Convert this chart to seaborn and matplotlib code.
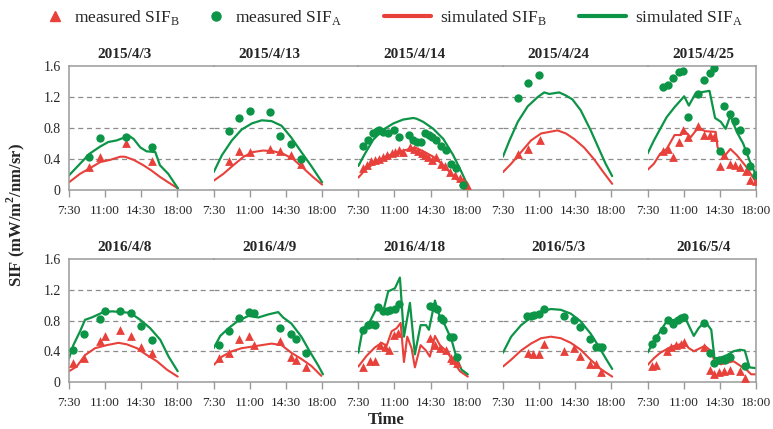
import matplotlib
matplotlib.use("Agg")
import matplotlib.pyplot as plt
from matplotlib.lines import Line2D
from matplotlib.transforms import blended_transform_factory
import seaborn as sns
import numpy as np

# ---------------- data ----------------
dates = ["2015/4/3", "2015/4/13", "2015/4/14", "2015/4/24", "2015/4/25",
         "2016/4/8", "2016/4/9", "2016/4/18", "2016/5/3", "2016/5/4"]
tick_hours = [7.5, 11.0, 14.5, 18.0]
tick_labels = ["7:30", "11:00", "14:30", "18:00"]
y_ticks = [0, 0.4, 0.8, 1.2, 1.6]
y_tick_labels = ["0", "0.4", "0.8", "1.2", "1.6"]

# 2015/4/3
p1_mB_t = [9.45, 10.5, 13.0, 15.5]
p1_mB = [0.30, 0.43, 0.61, 0.37]
p1_mA_t = [9.45, 10.5, 13.0, 15.5]
p1_mA = [0.43, 0.67, 0.68, 0.56]
p1_sB_t = [7.5, 8.57, 9.5, 10.5, 11.5, 12.45, 12.9, 13.75, 14.7, 15.5, 16.3, 17.1, 18.05]
p1_sB = [0.10, 0.21, 0.28, 0.36, 0.39, 0.43, 0.43, 0.39, 0.32, 0.25, 0.17, 0.10, 0.02]
p1_sA_t = [7.5, 8.57, 9.5, 10.5, 11.3, 12.1, 12.9, 13.3, 13.75, 14.4, 15.0, 15.85, 16.3, 17.1, 18.05]
p1_sA = [0.19, 0.34, 0.47, 0.56, 0.62, 0.64, 0.68, 0.70, 0.66, 0.55, 0.50, 0.49, 0.32, 0.21, 0.02]

# 2015/4/13
p2_mB_t = [8.97, 9.97, 10.99, 12.98, 13.94, 14.94, 15.93]
p2_mB = [0.37, 0.51, 0.49, 0.53, 0.50, 0.45, 0.34]
p2_mA_t = [8.97, 9.97, 10.99, 12.98, 13.94, 14.94, 15.93]
p2_mA = [0.76, 0.93, 1.02, 1.01, 0.70, 0.60, 0.40]
p2_sB_t = [7.5, 8.45, 9.4, 10.4, 11.3, 12.3, 13.3, 14.2, 15.2, 16.2, 17.1, 18.0]
p2_sB = [0.12, 0.21, 0.32, 0.43, 0.49, 0.51, 0.50, 0.47, 0.40, 0.28, 0.17, 0.07]
p2_sA_t = [7.5, 8.3, 9.26, 10.2, 11.2, 12.15, 13.1, 14.07, 15.0, 15.99, 16.9, 18.0]
p2_sA = [0.23, 0.45, 0.64, 0.78, 0.86, 0.90, 0.89, 0.83, 0.68, 0.49, 0.32, 0.10]

# 2015/4/14
p3_mB_t = [7.98, 8.3, 8.69, 9.11, 9.53, 9.92, 10.24, 10.73, 11.05, 11.47, 11.85, 12.5, 12.92,
           13.3, 13.63, 13.95, 14.27, 14.6, 15.02, 15.47, 15.89, 16.37, 16.85, 17.34, 17.66, 17.98]
p3_mB = [0.28, 0.32, 0.37, 0.39, 0.40, 0.43, 0.45, 0.48, 0.49, 0.52, 0.49, 0.55, 0.53,
         0.50, 0.48, 0.45, 0.43, 0.39, 0.43, 0.33, 0.31, 0.23, 0.19, 0.16, 0.12, 0.06]
p3_mA_t = [7.98, 8.4, 8.89, 9.27, 9.53, 9.92, 10.4, 10.95, 11.47, 12.44, 12.82, 13.15, 13.53,
           13.95, 14.34, 14.66, 15.02, 15.47, 15.98, 16.44, 16.95, 17.6]
p3_mA = [0.57, 0.65, 0.73, 0.76, 0.78, 0.75, 0.73, 0.77, 0.68, 0.71, 0.64, 0.62, 0.62,
         0.73, 0.71, 0.68, 0.64, 0.57, 0.52, 0.33, 0.28, 0.07]
p3_sB_t = [7.5, 8.3, 9.27, 10.24, 11.2, 12.18, 12.98, 13.79, 14.76, 15.56, 16.37, 17.18, 18.1]
p3_sB = [0.16, 0.28, 0.36, 0.43, 0.49, 0.52, 0.55, 0.50, 0.43, 0.34, 0.23, 0.12, 0.04]
p3_sA_t = [7.5, 8.15, 8.95, 9.92, 10.9, 11.85, 12.82, 13.15, 13.79, 14.76, 15.73, 16.69, 17.5, 18.05]
p3_sA = [0.31, 0.47, 0.65, 0.78, 0.86, 0.91, 0.93, 0.92, 0.88, 0.79, 0.66, 0.45, 0.23, 0.07]

# 2015/4/24
p4_mB_t = [8.94, 9.97, 11.06]
p4_mB = [0.46, 0.53, 0.64]
p4_mA_t = [8.97, 9.94, 10.96]
p4_mA = [1.19, 1.38, 1.48]
p4_sB_t = [7.5, 8.3, 9.26, 10.22, 11.19, 11.99, 12.79, 13.6, 14.39, 15.35, 16.31, 17.12, 18.08]
p4_sB = [0.23, 0.34, 0.49, 0.64, 0.73, 0.75, 0.77, 0.73, 0.66, 0.55, 0.40, 0.25, 0.08]
p4_sA_t = [7.5, 8.14, 8.94, 9.9, 10.87, 11.5, 11.99, 12.47, 12.95, 13.6, 14.23, 15.03, 16.0, 16.8, 17.44, 18.08]
p4_sA = [0.43, 0.64, 0.88, 1.08, 1.20, 1.26, 1.24, 1.25, 1.26, 1.22, 1.17, 1.03, 0.77, 0.53, 0.34, 0.18]

# 2015/4/25
p5_mB_t = [8.98, 9.44, 9.97, 10.52, 10.98, 11.44, 12.43, 12.99, 13.52, 13.98, 14.53, 14.9,
           15.5, 15.97, 16.5, 17.06, 17.46, 17.99]
p5_mB = [0.51, 0.53, 0.43, 0.62, 0.77, 0.68, 0.83, 0.71, 0.71, 0.68, 0.31, 0.45,
         0.34, 0.32, 0.30, 0.25, 0.13, 0.12]
p5_mA_t = [8.98, 9.44, 9.97, 10.52, 10.98, 11.44, 12.43, 12.99, 13.52, 13.98, 14.53, 14.9,
           15.5, 15.97, 16.5, 17.06, 17.46, 17.99]
p5_mA = [1.33, 1.36, 1.45, 1.52, 1.53, 0.94, 1.24, 1.42, 1.51, 1.57, 0.51, 1.09,
         0.98, 0.89, 0.77, 0.50, 0.31, 0.19]
p5_sB_t = [7.5, 8.12, 8.73, 9.35, 10.12, 10.74, 11.05, 11.67, 12.43, 13.05, 14.1, 14.28,
           14.9, 15.52, 16.14, 17.06, 18.0]
p5_sB = [0.26, 0.34, 0.47, 0.53, 0.71, 0.71, 0.77, 0.68, 0.81, 0.76, 0.75, 0.55,
         0.43, 0.53, 0.45, 0.30, 0.10]
p5_sA_t = [7.5, 8.12, 8.73, 9.35, 10.12, 11.05, 11.5, 12.12, 12.59, 13.5, 14.04, 14.6,
           15.06, 15.52, 16.14, 16.76, 17.38, 18.0]
p5_sA = [0.47, 0.64, 0.79, 0.94, 1.07, 1.21, 1.09, 1.24, 1.26, 1.28, 0.93, 0.88,
         0.79, 0.96, 0.75, 0.60, 0.38, 0.19]

# 2016/4/8
p6_mB_t = [7.92, 8.96, 10.45, 11.0, 12.45, 13.49, 14.46, 15.5]
p6_mB = [0.25, 0.31, 0.53, 0.60, 0.68, 0.60, 0.46, 0.38]
p6_mA_t = [7.92, 8.96, 10.45, 11.0, 12.45, 13.49, 14.46, 15.5]
p6_mA = [0.42, 0.63, 0.82, 0.93, 0.93, 0.90, 0.73, 0.55]
p6_sB_t = [7.5, 8.24, 9.05, 10.02, 11.16, 12.29, 13.1, 14.07, 15.04, 16.01, 16.98, 18.02]
p6_sB = [0.14, 0.20, 0.35, 0.44, 0.48, 0.51, 0.49, 0.44, 0.35, 0.27, 0.16, 0.07]
p6_sA_t = [7.5, 7.92, 8.57, 9.05, 9.7, 10.67, 11.64, 12.61, 13.42, 14.39, 15.36, 16.33, 17.14, 18.02]
p6_sA = [0.31, 0.48, 0.66, 0.81, 0.84, 0.90, 0.92, 0.91, 0.90, 0.81, 0.70, 0.55, 0.33, 0.14]

# 2016/4/9
p7_mB_t = [7.98, 8.94, 9.97, 10.96, 11.44, 13.94, 14.94, 15.45, 16.47]
p7_mB = [0.31, 0.38, 0.56, 0.60, 0.48, 0.54, 0.32, 0.29, 0.19]
p7_mA_t = [7.98, 8.94, 9.97, 10.96, 11.44, 13.94, 14.94, 15.45, 16.47]
p7_mA = [0.48, 0.67, 0.83, 0.91, 0.90, 0.70, 0.62, 0.56, 0.38]
p7_sB_t = [7.5, 8.3, 9.26, 10.22, 11.19, 12.15, 13.11, 14.07, 15.03, 15.99, 16.95, 17.92]
p7_sB = [0.22, 0.33, 0.40, 0.44, 0.46, 0.48, 0.50, 0.48, 0.38, 0.30, 0.21, 0.08]
p7_sA_t = [7.5, 8.14, 8.94, 9.9, 10.87, 11.83, 12.79, 13.75, 14.23, 15.03, 15.99, 16.79, 17.6, 18.08]
p7_sA = [0.44, 0.60, 0.70, 0.80, 0.86, 0.84, 0.88, 0.91, 0.84, 0.76, 0.59, 0.40, 0.22, 0.10]

# 2016/4/18
p8_mB_t = [7.98, 8.63, 9.11, 9.6, 10.08, 10.5, 10.98, 11.37, 14.43, 14.92, 15.4, 15.98, 16.44, 16.69, 17.02]
p8_mB = [0.20, 0.27, 0.27, 0.48, 0.46, 0.42, 0.61, 0.64, 0.57, 0.48, 0.44, 0.42, 0.31, 0.28, 0.25]
p8_mA_t = [7.98, 8.47, 8.79, 9.11, 9.37, 9.85, 10.24, 10.56, 11.05, 11.47, 14.43, 14.76, 15.08,
           15.47, 15.73, 16.37, 16.63, 17.08]
p8_mA = [0.68, 0.74, 0.75, 0.74, 0.97, 0.92, 0.92, 0.94, 0.95, 1.02, 0.99, 0.98, 0.95,
         0.83, 0.81, 0.59, 0.59, 0.32]
p8_sB_t = [7.5, 8.3, 9.11, 9.76, 10.24, 10.73, 11.21, 11.6, 11.92, 12.24, 12.66, 12.98, 13.53,
           14.05, 14.43, 14.92, 15.4, 16.05, 16.69, 17.34, 18.1]
p8_sB = [0.20, 0.34, 0.45, 0.51, 0.47, 0.66, 0.70, 0.77, 0.26, 0.59, 0.44, 0.19, 0.48,
         0.41, 0.33, 0.60, 0.48, 0.40, 0.27, 0.14, 0.07]
p8_sA_t = [7.5, 7.92, 8.63, 9.27, 9.92, 10.4, 11.05, 11.53, 11.92, 12.5, 12.98, 13.53, 14.05,
           14.34, 14.92, 15.4, 15.89, 16.53, 17.02, 17.5, 18.1]
p8_sA = [0.38, 0.68, 0.79, 0.96, 0.92, 1.18, 1.22, 1.36, 0.59, 1.03, 0.36, 0.74, 0.74,
         0.68, 1.06, 0.84, 0.74, 0.55, 0.31, 0.16, 0.10]

# 2016/5/3
p9_mB_t = [9.9, 10.38, 10.96, 11.5, 13.43, 14.39, 14.97, 15.93, 16.47, 16.96]
p9_mB = [0.38, 0.36, 0.36, 0.49, 0.40, 0.44, 0.34, 0.23, 0.23, 0.13]
p9_mA_t = [9.84, 10.22, 10.54, 10.96, 11.5, 13.43, 14.39, 14.97, 15.93, 16.47, 16.79, 17.1]
p9_mA = [0.86, 0.86, 0.87, 0.88, 0.95, 0.86, 0.81, 0.71, 0.56, 0.46, 0.45, 0.45]
p9_sB_t = [7.5, 8.3, 9.26, 10.22, 11.19, 12.15, 13.1, 14.07, 15.03, 15.99, 16.95, 18.08]
p9_sB = [0.20, 0.29, 0.41, 0.50, 0.57, 0.59, 0.57, 0.51, 0.42, 0.29, 0.17, 0.07]
p9_sA_t = [7.5, 8.3, 9.26, 10.22, 11.19, 12.15, 13.1, 14.07, 15.03, 15.99, 16.79, 17.44, 18.08]
p9_sA = [0.38, 0.59, 0.74, 0.84, 0.92, 0.95, 0.94, 0.89, 0.79, 0.63, 0.46, 0.31, 0.17]

# 2016/5/4
p10_mB_t = [7.96, 8.36, 9.35, 9.81, 10.28, 10.74, 11.05, 13.0, 13.52, 13.98, 14.44, 14.9, 15.52, 16.45, 16.91]
p10_mB = [0.21, 0.22, 0.40, 0.46, 0.48, 0.50, 0.52, 0.46, 0.16, 0.11, 0.13, 0.14, 0.16, 0.14, 0.05]
p10_mA_t = [7.96, 8.36, 8.98, 9.51, 9.97, 10.43, 10.74, 10.99, 13.0, 13.52, 13.98, 14.44, 14.97, 15.46, 16.91]
p10_mA = [0.50, 0.57, 0.68, 0.81, 0.76, 0.81, 0.83, 0.84, 0.77, 0.38, 0.25, 0.28, 0.28, 0.33, 0.21]
p10_sB_t = [7.5, 8.12, 8.73, 9.66, 10.28, 11.05, 11.51, 11.98, 12.59, 13.06, 13.67, 13.98,
            14.6, 15.2, 15.83, 16.6, 17.07, 17.53, 18.0]
p10_sB = [0.22, 0.31, 0.38, 0.45, 0.48, 0.50, 0.44, 0.40, 0.44, 0.47, 0.40, 0.27,
          0.23, 0.25, 0.27, 0.20, 0.16, 0.10, 0.10]
p10_sA_t = [7.5, 8.12, 8.73, 9.35, 10.12, 11.05, 11.98, 12.44, 13.06, 13.67, 13.98, 14.44,
            15.2, 15.83, 16.45, 16.91, 17.38, 18.0]
p10_sA = [0.38, 0.53, 0.66, 0.79, 0.81, 0.86, 0.60, 0.70, 0.79, 0.68, 0.31, 0.31,
          0.35, 0.40, 0.42, 0.41, 0.19, 0.18]

panels = [
    (p1_mB_t, p1_mB, p1_mA_t, p1_mA, p1_sB_t, p1_sB, p1_sA_t, p1_sA),
    (p2_mB_t, p2_mB, p2_mA_t, p2_mA, p2_sB_t, p2_sB, p2_sA_t, p2_sA),
    (p3_mB_t, p3_mB, p3_mA_t, p3_mA, p3_sB_t, p3_sB, p3_sA_t, p3_sA),
    (p4_mB_t, p4_mB, p4_mA_t, p4_mA, p4_sB_t, p4_sB, p4_sA_t, p4_sA),
    (p5_mB_t, p5_mB, p5_mA_t, p5_mA, p5_sB_t, p5_sB, p5_sA_t, p5_sA),
    (p6_mB_t, p6_mB, p6_mA_t, p6_mA, p6_sB_t, p6_sB, p6_sA_t, p6_sA),
    (p7_mB_t, p7_mB, p7_mA_t, p7_mA, p7_sB_t, p7_sB, p7_sA_t, p7_sA),
    (p8_mB_t, p8_mB, p8_mA_t, p8_mA, p8_sB_t, p8_sB, p8_sA_t, p8_sA),
    (p9_mB_t, p9_mB, p9_mA_t, p9_mA, p9_sB_t, p9_sB, p9_sA_t, p9_sA),
    (p10_mB_t, p10_mB, p10_mA_t, p10_mA, p10_sB_t, p10_sB, p10_sA_t, p10_sA),
]

# ---------------- style ----------------
sns.set_theme(style="white")
plt.rcParams["font.family"] = ["Liberation Serif", "DejaVu Serif"]
plt.rcParams["mathtext.fontset"] = "custom"
plt.rcParams["mathtext.rm"] = "Liberation Serif"
plt.rcParams["mathtext.bf"] = "Liberation Serif:bold"

RED = "#E8403A"
GREEN = "#0C9447"
AXC = "#9A9A9A"
GRIDC = "#8C8C8C"

fig = plt.figure(figsize=(7.73, 4.29), dpi=100)
L, R = 0.0893, 0.978
rows = [(0.846, 0.557), (0.396, 0.1096)]
ratios = [14, 14, 14, 14, 10.5]

axes = []
for r, (top, bot) in enumerate(rows):
    gs = fig.add_gridspec(1, 5, left=L, right=R, top=top, bottom=bot,
                          wspace=0, width_ratios=ratios)
    for c in range(5):
        ax = fig.add_subplot(gs[0, c])
        axes.append(ax)

for i, ax in enumerate(axes):
    mB_t, mB, mA_t, mA, sB_t, sB, sA_t, sA = panels[i]
    c = i % 5
    for g in [0.4, 0.8, 1.2]:
        ax.axhline(g, color=GRIDC, lw=0.9, ls=(0, (4, 3)), zorder=0)
    sns.lineplot(x=sB_t, y=sB, ax=ax, color=RED, lw=1.5, estimator=None, sort=False, zorder=2)
    sns.lineplot(x=sA_t, y=sA, ax=ax, color=GREEN, lw=1.6, estimator=None, sort=False, zorder=2)
    sns.scatterplot(x=mB_t, y=mB, ax=ax, color=RED, marker="^", s=40, linewidth=0, zorder=3)
    sns.scatterplot(x=mA_t, y=mA, ax=ax, color=GREEN, marker="o", s=36, linewidth=0, zorder=3)

    ax.set_xlim(7.5, 18.0 if c == 4 else 21.5)
    ax.set_ylim(0, 1.6)
    ax.set_xticks(tick_hours)
    ax.set_xticklabels(tick_labels, fontsize=9.5)
    ax.set_yticks(y_ticks)
    if c == 0:
        ax.set_yticklabels(y_tick_labels, fontsize=10)
    else:
        ax.set_yticklabels([])
    ax.tick_params(axis="x", length=5, width=1, color=AXC, pad=6, direction="out", bottom=True)
    ax.tick_params(axis="y", length=0, pad=6)
    ax.set_xlabel("")
    ax.set_ylabel("")
    for side in ["top", "bottom", "left", "right"]:
        ax.spines[side].set_color(AXC)
        ax.spines[side].set_linewidth(1.1)
    ax.spines["left"].set_visible(c == 0)
    ax.spines["right"].set_visible(c == 4)
    ax.patch.set_alpha(0)
    trans = blended_transform_factory(ax.transData, ax.transAxes)
    ax.text(12.9, 1.04, dates[i], transform=trans, ha="center", va="bottom",
            fontsize=11, fontweight="bold")

fig.text(0.02, 0.5, "SIF (mW/m$^\\mathbf{2}$/nm/sr)", rotation=90,
         ha="center", va="center", fontsize=12, fontweight="bold")
fig.text(0.5, 0.022, "Time", ha="center", va="center", fontsize=12, fontweight="bold")

h1 = [Line2D([], [], ls="none", marker="^", color=RED, ms=7),
      Line2D([], [], ls="none", marker="o", color=GREEN, ms=6.5)]
l1 = ["measured SIF$_\\mathregular{B}$", "measured SIF$_\\mathregular{A}$"]
h2 = [Line2D([], [], color=RED, lw=3), Line2D([], [], color=GREEN, lw=3)]
l2 = ["simulated SIF$_\\mathregular{B}$", "simulated SIF$_\\mathregular{A}$"]
leg1 = fig.legend(h1, l1, loc="center left", bbox_to_anchor=(0.06, 0.96), ncol=2,
                  frameon=False, fontsize=12.5, handlelength=1.0, handletextpad=0.6,
                  columnspacing=1.6, borderpad=0, borderaxespad=0)
leg2 = fig.legend(h2, l2, loc="center left", bbox_to_anchor=(0.497, 0.96), ncol=2,
                  frameon=False, fontsize=12.5, handlelength=2.7, handletextpad=0.5,
                  columnspacing=1.9, borderpad=0, borderaxespad=0)

fig.savefig("out.png", dpi=100)
